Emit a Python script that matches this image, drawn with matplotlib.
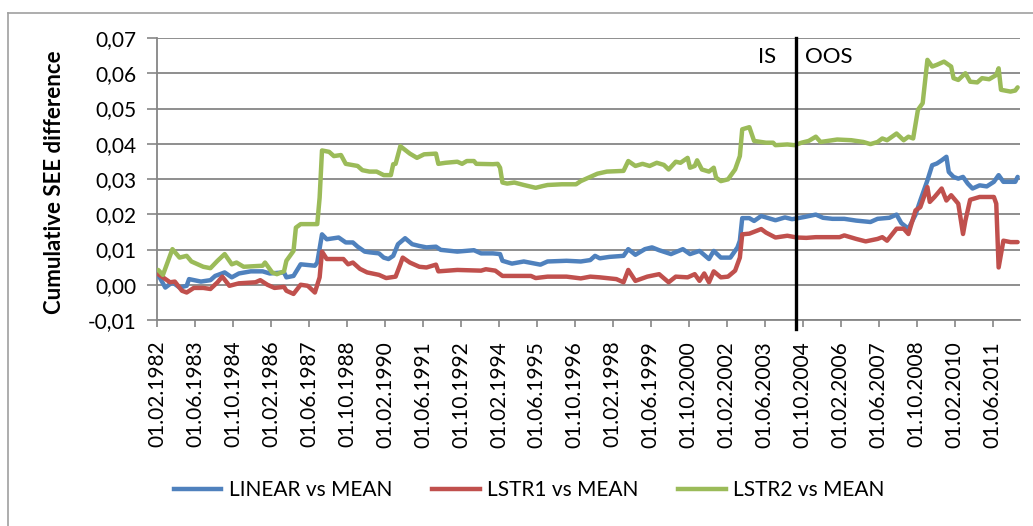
import matplotlib
matplotlib.use("Agg")
import matplotlib.pyplot as plt
from matplotlib.lines import Line2D

plt.rcParams['font.family'] = ['Lato', 'DejaVu Sans']

# months counted from 01.02.1982 (index 0)
lin_month = [0, 3, 6, 9, 12, 13, 18, 22, 24, 28, 31, 34, 39, 44, 47, 53, 54, 57, 60, 66, 67, 69, 71, 76, 79, 82,
             84, 87, 89, 93, 95, 97, 99, 101, 104, 107, 110, 113, 117, 119, 126, 133, 136, 141, 144, 145, 149,
             154, 161, 164, 172, 178, 182, 184, 186, 190, 196, 198, 201, 205, 208, 211, 216, 221, 224, 228, 232,
             234, 237, 241, 244, 245, 246, 249, 251, 254, 256, 260, 264, 267, 272, 277, 280, 284, 289, 294, 300,
             303, 308, 311, 313, 316, 319, 321, 324, 326, 328, 330, 332, 333, 335, 337, 339, 341, 343, 346, 349,
             352, 354, 356, 361, 362]
lin_vals = [0.0028, -0.0008, 0.0007, -0.0008, -0.0003, 0.0016, 0.0009, 0.0013, 0.0025, 0.0035, 0.0021, 0.0032,
            0.0038, 0.0038, 0.0032, 0.0035, 0.0021, 0.0025, 0.0058, 0.0054, 0.0063, 0.0143, 0.0129, 0.0134, 0.012,
            0.012, 0.0108, 0.0094, 0.0092, 0.0089, 0.0077, 0.0073, 0.0082, 0.0115, 0.0132, 0.0115, 0.011, 0.0106,
            0.0108, 0.0099, 0.0094, 0.0098, 0.0089, 0.0089, 0.0087, 0.0068, 0.006, 0.0066, 0.0057, 0.0066, 0.0068,
            0.0066, 0.007, 0.0082, 0.0075, 0.0079, 0.0082, 0.0101, 0.0085, 0.0101, 0.0106, 0.0098, 0.0087, 0.0101,
            0.0087, 0.0096, 0.0073, 0.0096, 0.0077, 0.0077, 0.0106, 0.0125, 0.0189, 0.0189, 0.0181, 0.0195, 0.0191,
            0.0183, 0.0191, 0.0186, 0.0192, 0.0199, 0.019, 0.0187, 0.0187, 0.0182, 0.0178, 0.0187, 0.019, 0.0199,
            0.0175, 0.0159, 0.0199, 0.0239, 0.0296, 0.0339, 0.0344, 0.0353, 0.0363, 0.032, 0.0306, 0.0301, 0.0306,
            0.0287, 0.0273, 0.0282, 0.0279, 0.0292, 0.0311, 0.0292, 0.0292, 0.0306]

lstr1_month = [0, 2, 5, 7, 10, 12, 15, 19, 22, 25, 27, 30, 34, 41, 43, 46, 49, 53, 54, 57, 60, 63, 66, 68, 69, 71,
               78, 80, 82, 85, 88, 93, 96, 100, 102, 103, 106, 110, 113, 117, 118, 126, 136, 138, 142, 144, 145,
               157, 159, 164, 172, 178, 182, 186, 193, 196, 198, 201, 206, 211, 215, 218, 223, 226, 228, 230, 232,
               234, 237, 240, 243, 245, 246, 249, 254, 256, 260, 265, 269, 273, 277, 287, 289, 294, 298, 303, 305,
               307, 311, 314, 316, 319, 321, 324, 325, 327, 330, 332, 334, 337, 339, 340, 342, 346, 352, 353, 354,
               356, 359, 362]
lstr1_vals = [0.003, 0.0021, 0.0007, 0.0009, -0.0017, -0.0022, -0.0009, -0.0009, -0.0012, 0.0007, 0.0023, -0.0003,
              0.0004, 0.0007, 0.0013, 0.0, -0.0009, -0.0006, -0.0017, -0.0026, 0.0, -0.0003, -0.0022, 0.0021,
              0.0094, 0.0073, 0.0073, 0.0058, 0.0063, 0.0045, 0.0035, 0.0028, 0.0019, 0.0023, 0.0058, 0.0077,
              0.0063, 0.0051, 0.0049, 0.0057, 0.0038, 0.0042, 0.004, 0.0044, 0.004, 0.003, 0.0025, 0.0025, 0.0019,
              0.0023, 0.0023, 0.0018, 0.0023, 0.0021, 0.0016, 0.0007, 0.0042, 0.0011, 0.0023, 0.003, 0.0007, 0.0023,
              0.0021, 0.003, 0.0011, 0.0032, 0.0007, 0.0038, 0.0021, 0.0023, 0.004, 0.0077, 0.0143, 0.0145, 0.0158,
              0.0148, 0.0134, 0.0139, 0.0134, 0.0133, 0.0135, 0.0135, 0.014, 0.013, 0.0123, 0.013, 0.0135, 0.0125,
              0.0159, 0.0159, 0.0144, 0.0211, 0.022, 0.0277, 0.0235, 0.0249, 0.0273, 0.0239, 0.0254, 0.023, 0.0144,
              0.0182, 0.0241, 0.0249, 0.0249, 0.023, 0.0049, 0.0125, 0.0121, 0.0121]

lstr2_month = [0, 2, 6, 9, 12, 14, 19, 22, 25, 28, 31, 33, 36, 44, 45, 48, 50, 53, 54, 57, 58, 60, 67, 68, 69, 72,
               74, 77, 79, 84, 86, 89, 92, 95, 98, 99, 100, 102, 106, 109, 112, 117, 118, 121, 126, 128, 130, 133,
               134, 141, 143, 144, 145, 147, 150, 154, 159, 162, 164, 170, 176, 178, 182, 185, 189, 196, 198, 201,
               204, 207, 210, 213, 215, 218, 220, 223, 224, 226, 227, 229, 232, 234, 235, 237, 240, 243, 245, 246,
               249, 251, 256, 259, 260, 265, 268, 271, 274, 277, 279, 286, 292, 297, 300, 303, 305, 307, 311, 314,
               316, 318, 320, 322, 324, 326, 328, 331, 334, 335, 337, 340, 342, 345, 347, 350, 353, 354, 355, 359,
               361, 362]
lstr2_vals = [0.0042, 0.0028, 0.0101, 0.0077, 0.0082, 0.0066, 0.0051, 0.0047, 0.0068, 0.0087, 0.0058, 0.0063,
              0.0051, 0.0054, 0.0063, 0.0035, 0.003, 0.0038, 0.0068, 0.0096, 0.0162, 0.0172, 0.0172, 0.0247, 0.0381,
              0.0377, 0.0365, 0.0368, 0.0343, 0.0337, 0.0325, 0.0321, 0.0321, 0.0311, 0.0311, 0.0342, 0.0343,
              0.0393, 0.0372, 0.036, 0.037, 0.0372, 0.0343, 0.0346, 0.0349, 0.0343, 0.0351, 0.0351, 0.0343, 0.0342,
              0.0343, 0.0332, 0.029, 0.0287, 0.029, 0.0283, 0.0275, 0.028, 0.0283, 0.0285, 0.0285, 0.0294, 0.0306,
              0.0315, 0.0321, 0.0323, 0.0351, 0.0337, 0.0343, 0.0337, 0.0346, 0.034, 0.0327, 0.0349, 0.0346, 0.036,
              0.0332, 0.0337, 0.0353, 0.0327, 0.0321, 0.0332, 0.0304, 0.0294, 0.0299, 0.0327, 0.0365, 0.0441,
              0.0447, 0.0408, 0.0403, 0.0403, 0.0396, 0.0398, 0.0396, 0.0403, 0.0408, 0.042, 0.0405, 0.0412, 0.041,
              0.0405, 0.0399, 0.0405, 0.0415, 0.041, 0.0429, 0.041, 0.042, 0.0415, 0.0496, 0.0515, 0.0638, 0.0619,
              0.0624, 0.0633, 0.0619, 0.0586, 0.0581, 0.06, 0.0576, 0.0574, 0.0586, 0.0583, 0.0595, 0.0614, 0.0553,
              0.0548, 0.0551, 0.056]

series_names = ['LINEAR vs MEAN', 'LSTR1 vs MEAN', 'LSTR2 vs MEAN']
series_colors = ['#4F81BD', '#C0504D', '#9BBB59']

n_months = 363
split_month = 268.5  # IS / OOS boundary

tick_labels = ['01.02.1982', '01.06.1983', '01.10.1984', '01.02.1986', '01.06.1987', '01.10.1988',
               '01.02.1990', '01.06.1991', '01.10.1992', '01.02.1994', '01.06.1995', '01.10.1996',
               '01.02.1998', '01.06.1999', '01.10.2000', '01.02.2002', '01.06.2003', '01.10.2004',
               '01.02.2006', '01.06.2007', '01.10.2008', '01.02.2010', '01.06.2011']
tick_step = 16

y_ticks = [-0.01, 0.0, 0.01, 0.02, 0.03, 0.04, 0.05, 0.06, 0.07]

W, H = 1033, 526
fig = plt.figure(figsize=(W / 100, H / 100), dpi=100)
ax = fig.add_axes([157 / W, 1 - 320 / H, (1020 - 157) / W, (320 - 38) / H])

grey = '#868686'
for months, vals, name, col in zip([lin_month, lstr1_month, lstr2_month],
                                   [lin_vals, lstr1_vals, lstr2_vals],
                                   series_names, series_colors):
    ax.plot(months, vals, color=col, lw=3.2, label=name, solid_joinstyle='round',
            solid_capstyle='round', zorder=3)

ax.set_xlim(-0.5, n_months)
ax.set_ylim(-0.01, 0.07)
ax.set_yticks(y_ticks)
ax.set_yticklabels([f'{v:.2f}'.replace('.', ',') for v in y_ticks], fontsize=15)
ax.set_xticks([i * tick_step - 0.5 for i in range(len(tick_labels))])
ax.set_xticklabels(tick_labels, rotation=90, fontsize=15)
ax.tick_params(axis='y', length=7, width=1.2, color=grey, pad=8)
ax.tick_params(axis='x', length=5, width=1.2, color=grey, pad=10)

ax.grid(axis='y', color=grey, lw=1.3)
ax.set_axisbelow(True)
for side in ['top', 'right']:
    ax.spines[side].set_visible(False)
for side in ['left', 'bottom']:
    ax.spines[side].set_color(grey)
    ax.spines[side].set_linewidth(1.3)

# IS / OOS split
ax.plot([split_month, split_month], [-0.0125, 0.07], color='black', lw=2.4, clip_on=False, zorder=4)
ax.text(split_month - 12, 0.0645, 'IS', fontsize=16, ha='center', va='center')
ax.text(split_month + 4, 0.0645, 'OOS', fontsize=16, ha='left', va='center')

fig.text(55 / W, 1 - 182 / H, 'Cumulative SEE difference', rotation=90, fontsize=16,
         fontweight='bold', ha='center', va='center')

handles = [Line2D([], [], color=c, lw=3.2) for c in series_colors]
fig.legend(handles, series_names, loc='center', bbox_to_anchor=(529 / W, 1 - 490 / H), ncol=3,
           frameon=False, fontsize=15, handlelength=2.3, handletextpad=0.35, columnspacing=1.9)

# chart frame (top and left edges visible in the reference)
frame = '#a0a0a0'
fig.add_artist(Line2D([8 / W, 1], [1 - 13 / H, 1 - 13 / H], color=frame, lw=1.2, transform=fig.transFigure))
fig.add_artist(Line2D([8 / W, 8 / W], [0, 1 - 13 / H], color=frame, lw=1.2, transform=fig.transFigure))

fig.savefig('out.png', dpi=100)
